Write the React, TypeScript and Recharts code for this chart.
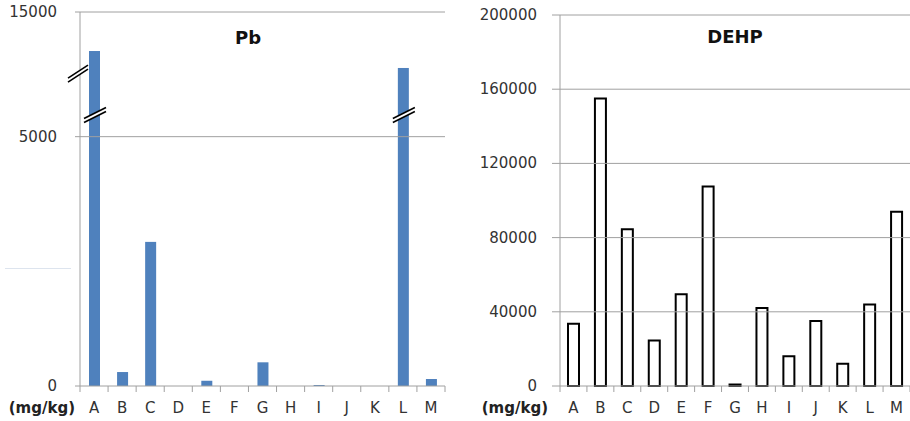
import { BarChart, Bar, XAxis, YAxis, ReferenceLine } from "recharts";

const SAMPLES = ["A", "B", "C", "D", "E", "F", "G", "H", "I", "J", "K", "L", "M"];

// Pb in mg/kg, axis broken above 5000 (upper part squeezed 4x)
const PB_VALUES = [11870, 280, 2890, 0, 105, 0, 475, 0, 20, 0, 0, 10510, 140];
const PB_TICKS = [0, 5000, 15000];
const PB_SPLIT = 5000;
const PB_SQUEEZE = 4;
const PB_BAR_BREAK = 6780;
const PB_AXIS_BREAK = 10100;

const DEHP_VALUES = [33500, 155000, 84500, 24500, 49500, 107500, 800, 42000, 16000, 35000, 12000, 44000, 94000];
const DEHP_TICKS = [0, 40000, 80000, 120000, 160000, 200000];

const FONT = "'DejaVu Sans', sans-serif";
const TEXT = "#333";
const GRID = "#a0a0a0";

const squeeze = (v: number) => (v <= PB_SPLIT ? v : PB_SPLIT + (v - PB_SPLIT) / PB_SQUEEZE);

const pbData = SAMPLES.map((s, i) => ({ name: s, value: PB_VALUES[i], shown: squeeze(PB_VALUES[i]) }));
const dehpData = SAMPLES.map((s, i) => ({ name: s, value: DEHP_VALUES[i] }));

function Slashes({ x1, x2, y1, y2, gap }: any) {
  return (
    <g>
      <polygon points={`${x1},${y1} ${x2},${y2} ${x2},${y2 + gap} ${x1},${y1 + gap}`} fill="#fff" />
      <line x1={x1} y1={y1} x2={x2} y2={y2} stroke="#000" strokeWidth={1.6} />
      <line x1={x1} y1={y1 + gap} x2={x2} y2={y2 + gap} stroke="#000" strokeWidth={1.6} />
    </g>
  );
}

function PbBar(props: any) {
  const { x, y, width, height, payload } = props;
  if (!height || height <= 0) return null;
  const broken = payload.value > PB_BAR_BREAK;
  const yb = y + height - (squeeze(PB_BAR_BREAK) * height) / payload.shown;
  return (
    <g>
      <rect x={x} y={y} width={width} height={height} fill="#4f81bd" />
      {broken && <Slashes x1={x - 5} y1={yb + 4} x2={x + width + 6} y2={yb - 7} gap={4} />}
    </g>
  );
}

function makeYTick(stub: number, labelOf: (v: number) => string, breakAt?: number) {
  return (props: any) => {
    const { x, y, payload } = props;
    if (breakAt !== undefined && payload.value === breakAt) {
      return <Slashes x1={x - 12} y1={y + 5} x2={x + 8} y2={y - 8} gap={4} />;
    }
    return (
      <g>
        <line x1={x - stub} y1={y} x2={x} y2={y} stroke={GRID} />
        <text x={x - 23} y={y + 5} textAnchor="end" fontSize={15} fill={TEXT} fontFamily={FONT}>
          {labelOf(payload.value)}
        </text>
      </g>
    );
  };
}

function makeXTick(bw: number, unitGap: number) {
  return (props: any) => {
    const { x, y, payload, index } = props;
    return (
      <g>
        <line x1={x - bw / 2} y1={y} x2={x - bw / 2} y2={y + 6} stroke={GRID} />
        {index === SAMPLES.length - 1 && (
          <line x1={x + bw / 2} y1={y} x2={x + bw / 2} y2={y + 6} stroke={GRID} />
        )}
        <text x={x} y={y + 27} textAnchor="middle" fontSize={15} fill={TEXT} fontFamily={FONT}>
          {payload.value}
        </text>
        {index === 0 && (
          <text x={x - bw / 2 - unitGap} y={y + 27} textAnchor="end" fontSize={15} fontWeight="bold" fill="#222" fontFamily={FONT}>
            (mg/kg)
          </text>
        )}
      </g>
    );
  };
}

const Title = ({ text, x, y }: { text: string; x: number; y: number }) => (
  <div
    style={{
      position: "absolute",
      left: x - 60,
      top: y - 12,
      width: 120,
      textAlign: "center",
      fontFamily: FONT,
      fontWeight: "bold",
      fontSize: 18,
      lineHeight: "24px",
      color: "#111",
    }}
  >
    {text}
  </div>
);

export default function App() {
  const pbW = 460;
  const pbBw = (pbW - 80 - 15) / SAMPLES.length;
  const dehpW = 450;
  const dehpBw = (dehpW - 100) / SAMPLES.length;

  return (
    <div style={{ position: "absolute", left: 0, top: 0, width: 910, height: 421, background: "#fff" }}>
      <div style={{ position: "absolute", left: 0, top: 0 }}>
        <BarChart width={pbW} height={421} data={pbData} margin={{ top: 12, right: 15, bottom: 0, left: 10 }}>
          <XAxis
            dataKey="name"
            height={35}
            interval={0}
            tickSize={0}
            tickMargin={0}
            tickLine={false}
            axisLine={{ stroke: GRID }}
            tick={makeXTick(pbBw, 5)}
          />
          <YAxis
            type="number"
            width={70}
            domain={[0, squeeze(15000)]}
            ticks={[...PB_TICKS.map(squeeze), squeeze(PB_AXIS_BREAK)]}
            interval={0}
            tickSize={0}
            tickMargin={0}
            tickLine={false}
            axisLine={{ stroke: GRID }}
            tick={makeYTick(5, (v) => String(PB_TICKS.find((t) => squeeze(t) === v) ?? v), squeeze(PB_AXIS_BREAK))}
          />
          {PB_TICKS.slice(1).map((t) => (
            <ReferenceLine key={t} y={squeeze(t)} stroke={GRID} />
          ))}
          <Bar dataKey="shown" barSize={11} shape={PbBar} isAnimationActive={false} />
        </BarChart>
      </div>
      <div style={{ position: "absolute", left: 5, top: 268, width: 66, height: 1, background: "#dde4ee" }} />
      <Title text="Pb" x={248} y={38} />

      <div style={{ position: "absolute", left: 460, top: 0 }}>
        <BarChart width={dehpW} height={421} data={dehpData} margin={{ top: 15, right: 0, bottom: 0, left: 10 }}>
          <XAxis
            dataKey="name"
            height={35}
            interval={0}
            tickSize={0}
            tickMargin={0}
            tickLine={false}
            axisLine={{ stroke: GRID }}
            tick={makeXTick(dehpBw, 12)}
          />
          <YAxis
            type="number"
            width={90}
            domain={[0, 200000]}
            ticks={DEHP_TICKS}
            interval={0}
            tickSize={0}
            tickMargin={0}
            tickLine={false}
            axisLine={{ stroke: GRID }}
            tick={makeYTick(8, (v) => String(v))}
          />
          {DEHP_TICKS.slice(1).map((t) => (
            <ReferenceLine key={t} y={t} stroke={GRID} />
          ))}
          <Bar dataKey="value" barSize={11} fill="#fff" stroke="#000" strokeWidth={2} isAnimationActive={false} />
        </BarChart>
      </div>
      <Title text="DEHP" x={735} y={37} />
    </div>
  );
}
